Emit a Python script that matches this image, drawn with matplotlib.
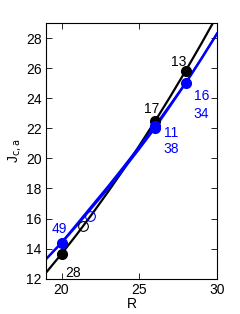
import matplotlib
matplotlib.use("Agg")
import matplotlib.pyplot as plt

plt.rcParams['font.family'] = ['Liberation Sans', 'DejaVu Sans']

# --- curves ---
black_x = [19, 20, 21, 22, 23, 24, 25, 26, 27, 28, 29, 29.7]
black_y = [12.4, 13.65, 14.97, 16.35, 17.79, 19.28, 20.84, 22.45, 24.12, 25.85, 27.64, 28.93]

blue1_x = [19, 20, 21, 22.26, 23, 24, 25, 26, 27, 28, 29, 30]
blue1_y = [13.3, 14.4, 15.65, 17.23, 18.15, 19.45, 20.78, 22.15, 23.58, 25.05, 26.65, 28.3]
blue2_x = [19, 20, 21, 22.26, 23, 24, 25, 26, 27, 28, 29, 30]
blue2_y = [13.3, 14.38, 15.55, 17.1, 18.0, 19.3, 20.63, 22.0, 23.5, 25.02, 26.62, 28.28]

# --- markers ---
black_pts_x = [20, 26, 28]
black_pts_y = [13.65, 22.5, 25.83]
blue_pts_x = [20, 26, 26, 28]
blue_pts_y = [14.39, 22.15, 22.0, 25.03]
black_open = (21.38, 15.5)
blue_open = (21.81, 16.19)

# --- number labels ---
black_labels = [("13", 27.55, 26.43), ("17", 25.8, 23.26), ("28", 20.72, 12.36)]
blue_labels = [("16", 29.0, 24.17), ("34", 29.0, 22.93), ("11", 27.08, 21.67),
               ("38", 27.08, 20.62), ("49", 19.84, 15.3)]

blue = "#0000ff"

fig = plt.figure(figsize=(2.4, 3.14), dpi=100)
ax = fig.add_axes([0.1917, 0.1124, 0.7125, 0.8144])

ax.plot(black_x, black_y, color="black", lw=1.6)
ax.plot(blue1_x, blue1_y, color=blue, lw=1.6)
ax.plot(blue2_x, blue2_y, color=blue, lw=1.6)

ax.plot(black_pts_x, black_pts_y, "o", color="black", ms=7)
ax.plot(blue_pts_x, blue_pts_y, "o", color=blue, ms=7)
ax.plot(*black_open, "o", mfc="none", mec="black", ms=7, mew=0.8)
ax.plot(*blue_open, "o", mfc="none", mec=blue, ms=7, mew=0.8)

for s, x, y in black_labels:
    ax.text(x, y, s, color="black", fontsize=10, ha="center", va="center")
for s, x, y in blue_labels:
    ax.text(x, y, s, color=blue, fontsize=10, ha="center", va="center")

ax.set_xlim(19, 30)
ax.set_ylim(12, 29)
ax.set_xticks([20, 25, 30])
ax.set_yticks(range(12, 29, 2))
ax.tick_params(direction="in", length=4, width=0.6, labelsize=10,
               top=True, right=True, pad=3)
for sp in ax.spines.values():
    sp.set_linewidth(0.8)
ax.set_xlabel("R", fontsize=10, labelpad=0)
ax.set_ylabel("J$_{\\rm c,a}$", fontsize=10, labelpad=2)

fig.savefig("out.png", dpi=100)
